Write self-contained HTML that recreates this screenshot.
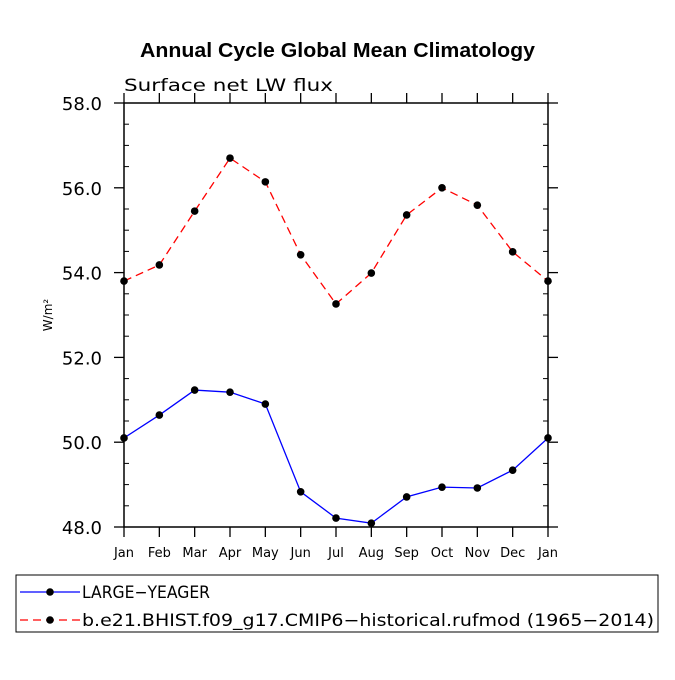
<!DOCTYPE html>
<html><head><meta charset="utf-8"><style>
body{margin:0;background:#fff}
svg text{font-family:"DejaVu Sans","Liberation Sans",sans-serif}
</style></head><body>
<svg id="c" width="675" height="675" viewBox="0 0 675 675">
<text x="140" y="57" font-size="20" font-weight="bold" textLength="395" lengthAdjust="spacingAndGlyphs" style="font-family:'Liberation Sans',sans-serif">Annual Cycle Global Mean Climatology</text>
<text x="124" y="91" font-size="17" textLength="209" lengthAdjust="spacingAndGlyphs" fill="#000">Surface net LW flux</text>
<text transform="translate(52,315) rotate(-90)" text-anchor="middle" font-size="12">W/m²</text>
<g id="axes"></g><g id="series"></g>
<rect x="16" y="575" width="642" height="57" fill="none" stroke="#000"/>
<g>
<line x1="20" y1="592" x2="80" y2="592" stroke="#0000ff" stroke-width="1.3"/><circle cx="50" cy="592" r="3.8"/>
<text x="82" y="598" font-size="17" textLength="128" lengthAdjust="spacingAndGlyphs">LARGE−YEAGER</text></g>
<g>
<line x1="20" y1="620" x2="80" y2="620" stroke="#ff0000" stroke-width="1.3" stroke-dasharray="8,5"/><circle cx="50" cy="620" r="3.8"/>
<text x="82" y="626" font-size="17" textLength="572" lengthAdjust="spacingAndGlyphs">b.e21.BHIST.f09_g17.CMIP6−historical.rufmod (1965−2014)</text></g>
</svg>
<script>
const months=["Jan","Feb","Mar","Apr","May","Jun","Jul","Aug","Sep","Oct","Nov","Dec","Jan"];
const yTicks=[48,50,52,54,56,58];
const largeYeager=[50.10,50.64,51.23,51.18,50.90,48.83,48.21,48.09,48.71,48.94,48.92,49.34,50.10];
const cmip6=[53.80,54.18,55.45,56.70,56.14,54.42,53.26,53.99,55.36,56.00,55.59,54.49,53.80];
const NS="http://www.w3.org/2000/svg";
const X0=124,X1=548,Y0=527,Y1=103,ymin=48,ymax=58;
const xs=i=>X0+i*(X1-X0)/(months.length-1);
const ys=v=>Y0-(v-ymin)/(ymax-ymin)*(Y0-Y1);
function mk(tag,attrs,parent){const e=document.createElementNS(NS,tag);for(const k in attrs)e.setAttribute(k,attrs[k]);parent.appendChild(e);return e;}
const ax=document.getElementById('axes');
const frame=mk('rect',{x:X0,y:Y1,width:X1-X0,height:Y0-Y1,fill:'none',stroke:'#000','stroke-width':1.5},ax);


months.forEach((m,i)=>{const x=xs(i);
mk('line',{x1:x,y1:Y0,x2:x,y2:Y0+10,stroke:'#000','stroke-width':1.3},ax);
mk('line',{x1:x,y1:Y1,x2:x,y2:Y1-10,stroke:'#000','stroke-width':1.3},ax);
const t=mk('text',{x:x,y:Y0+30,'text-anchor':'middle','font-size':13},ax);t.textContent=m;

});
for(let v=ymin;v<=ymax+1e-9;v+=0.5){const y=ys(v);const major=Math.abs(v/2-Math.round(v/2))<1e-9;
if(major){mk('line',{x1:X0-10,y1:y,x2:X0,y2:y,stroke:'#000','stroke-width':1.3},ax);mk('line',{x1:X1,y1:y,x2:X1+10,y2:y,stroke:'#000','stroke-width':1.3},ax);}
else{mk('line',{x1:X0,y1:y,x2:X0+5,y2:y,stroke:'#000'},ax);mk('line',{x1:X1-5,y1:y,x2:X1,y2:y,stroke:'#000'},ax);}}
yTicks.forEach(v=>{const t=mk('text',{x:X0-22,y:ys(v)+7,'text-anchor':'end','font-size':18},ax);t.textContent=v.toFixed(1);

});
const sg=document.getElementById('series');
function draw(vals,color,dash,name){const g=mk('g',{},sg);


const pts=vals.map((v,i)=>xs(i)+','+ys(v)).join(' ');
const a={points:pts,fill:'none',stroke:color,'stroke-width':1.3};if(dash)a['stroke-dasharray']=dash;mk('polyline',a,g);
vals.forEach((v,i)=>{const c=mk('circle',{cx:xs(i),cy:ys(v),r:3.8,fill:'#000'},g);

});}
draw(largeYeager,'#0000ff',null,'series-large-yeager');
draw(cmip6,'#ff0000','8,5','series-cmip6');
</script>
</body></html>
